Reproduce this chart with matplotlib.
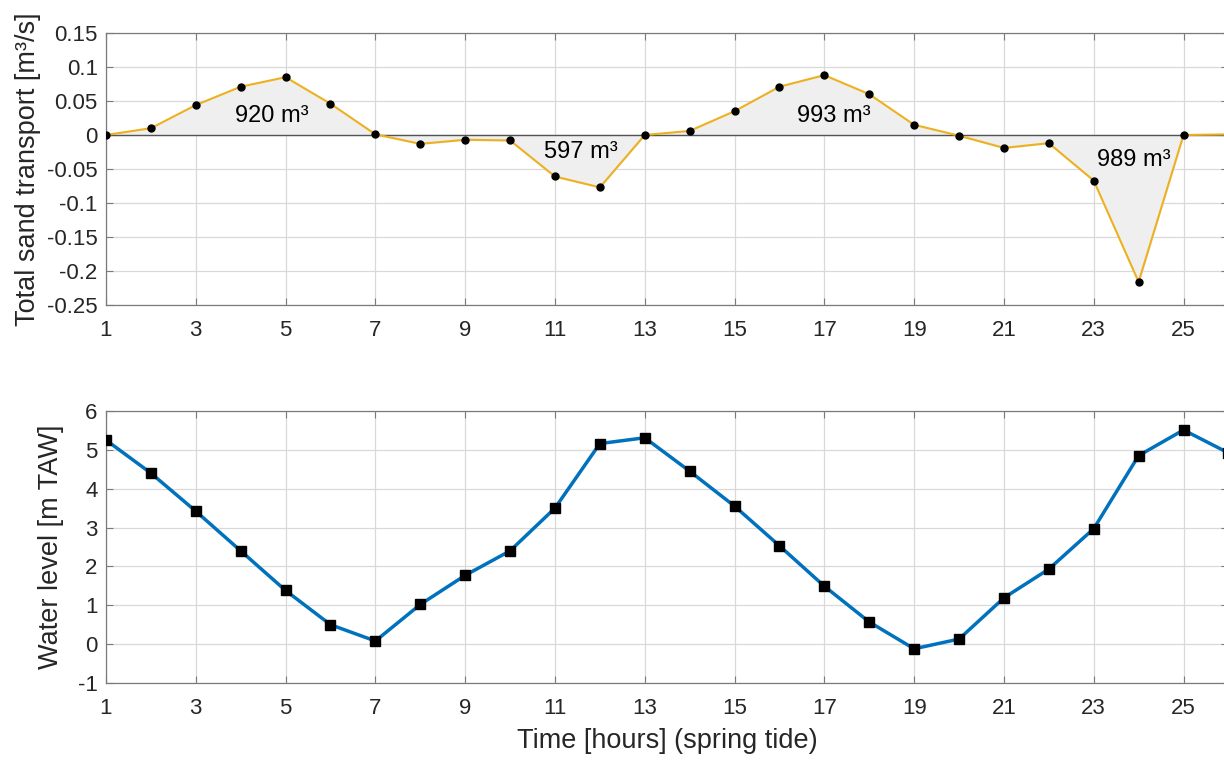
import matplotlib.pyplot as plt
import numpy as np

plt.rcParams['font.family'] = ['Liberation Sans', 'DejaVu Sans']
plt.rcParams['axes.unicode_minus'] = False

hours = list(range(1, 27))

# total sand transport [m3/s]
transport = [0.0, 0.010, 0.044, 0.071, 0.085, 0.046, 0.001, -0.013, -0.007, -0.008,
             -0.061, -0.077, 0.0, 0.006, 0.035, 0.071, 0.088, 0.060, 0.015, -0.001,
             -0.019, -0.012, -0.067, -0.216, 0.0, 0.001]

# water level [m TAW]
water_level = [5.25, 4.40, 3.42, 2.40, 1.38, 0.50, 0.08, 1.02, 1.77, 2.40,
               3.50, 5.16, 5.31, 4.45, 3.55, 2.53, 1.49, 0.57, -0.12, 0.13,
               1.19, 1.93, 2.97, 4.85, 5.51, 4.92]

volume_labels = ['920 m³', '597 m³', '993 m³', '989 m³']
volume_pos = [(4.7, 0.028), (11.58, -0.025), (17.2, 0.028), (23.9, -0.037)]

orange = '#EDB120'
blue = '#0072BD'
axcol = '#262626'
gridcol = '#d9d9d9'


def style_axes(ax):
    ax.grid(True, color=gridcol, linewidth=0.9)
    ax.set_axisbelow(True)
    for s in ax.spines.values():
        s.set_color('#7a7a7a')
        s.set_linewidth(0.9)
    ax.tick_params(direction='in', top=True, right=True, length=5,
                   color='#7a7a7a', labelcolor=axcol, labelsize=16)
    ax.tick_params(axis='x', pad=11)
    ax.tick_params(axis='y', pad=6)
    ax.set_xlim(1, 26)
    ax.set_xticks(range(1, 27, 2))


fig = plt.figure(figsize=(12.24, 7.62), dpi=100)

# top: sand transport
ax1 = fig.add_axes([0.0866, 0.5997, 0.917, 0.357])
style_axes(ax1)
x = np.array(hours)
y = np.array(transport)
ax1.fill_between(x, y, 0, color='#efefef', zorder=1)
ax1.axhline(0, color='#555555', linewidth=1.0, zorder=2)
ax1.plot(x, y, color=orange, linewidth=1.5, zorder=3)
ax1.plot(x, y, 'o', color='black', markersize=5, zorder=4)
ax1.set_ylim(-0.25, 0.15)
ax1.set_yticks(np.arange(-0.25, 0.151, 0.05))
ax1.set_yticklabels(['-0.25', '-0.2', '-0.15', '-0.1', '-0.05', '0', '0.05', '0.1', '0.15'])
ax1.set_ylabel('Total sand transport [m³/s]', fontsize=19.5, color=axcol, labelpad=4)
for lab, (px, py) in zip(volume_labels, volume_pos):
    ax1.text(px, py, lab, fontsize=17, color='black', ha='center', va='center', zorder=5)

# bottom: water level
ax2 = fig.add_axes([0.0866, 0.1037, 0.917, 0.357])
style_axes(ax2)
ax2.plot(hours, water_level, color=blue, linewidth=2.5, zorder=3)
ax2.plot(hours, water_level, 's', color='black', markersize=7, zorder=4)
ax2.set_ylim(-1, 6)
ax2.set_yticks(range(-1, 7))
ax2.set_ylabel('Water level [m TAW]', fontsize=19.5, color=axcol, labelpad=10)
ax2.set_xlabel('Time [hours] (spring tide)', fontsize=19.5, color=axcol, labelpad=6)

fig.savefig('out.png', dpi=100)
